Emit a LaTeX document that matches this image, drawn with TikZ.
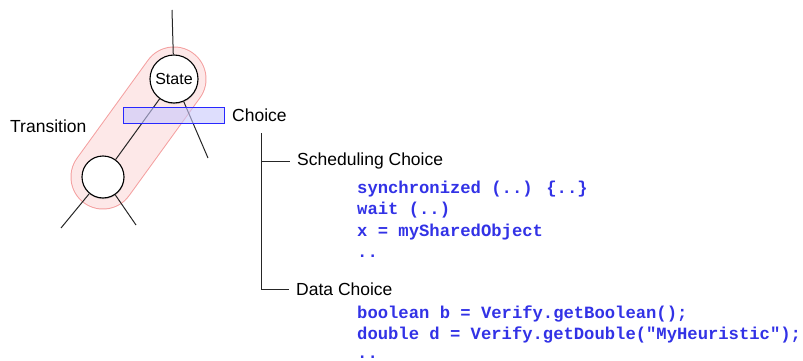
\documentclass[tikz,border=0pt]{standalone}
\usepackage{fontspec}
\setmainfont{Liberation Sans}
\newfontfamily\codefont{Liberation Mono}
\usetikzlibrary{shadows}
\definecolor{capline}{RGB}{244,160,160}
\definecolor{capfill}{RGB}{253,232,232}
\definecolor{codeblue}{RGB}{50,50,230}
\definecolor{rectline}{RGB}{40,40,255}
\definecolor{rectfill}{RGB}{200,200,252}
\tikzset{
  circ/.style={circle, draw=black, line width=1.1pt, fill=white, inner sep=0pt,
    drop shadow={shadow xshift=0.4pt, shadow yshift=-1.2pt, opacity=0.35}},
  lbl/.style={anchor=west, inner sep=0pt, font=\fontsize{17.5}{18}\selectfont},
  code/.style={anchor=base west, inner sep=0pt, text=codeblue, font=\codefont\bfseries\fontsize{17.2}{18}\selectfont},
  edge/.style={draw=black!85, line width=1pt},
}
\begin{document}
\begin{tikzpicture}[x=1pt, y=-1pt]
\useasboundingbox (0,0) rectangle (803,361);
% capsule
\coordinate (cs) at (174,79);
\coordinate (cl) at (103,177);
\draw[line width=65pt, line cap=round, draw=capline] (cs) -- (cl);
\draw[line width=63pt, line cap=round, draw=capfill] (cs) -- (cl);
% free ends
\coordinate (t0) at (172,10);
\coordinate (r1) at (208,158);
\coordinate (l1) at (61,228);
\coordinate (l2) at (136,225);
% circles
\node[circ, minimum size=48pt, font=\fontsize{16}{16}\selectfont] (st) at (cs) {State};
\node[circ, minimum size=42pt] (lo) at (cl) {};
\draw[edge] (t0) -- (st);
\draw[edge] (st) -- (r1);
\draw[edge] (st) -- (lo);
\draw[edge] (lo) -- (l1);
\draw[edge] (lo) -- (l2);
% choice rect
\node[draw=rectline, line width=1pt, fill=rectfill, fill opacity=0.6, draw opacity=1,
  minimum width=101pt, minimum height=16pt, inner sep=0pt] (ch) at (173.5,115) {};
\node[lbl] (chl) at (232,115) {Choice};
\node[lbl] (tr) at (10,126) {Transition};
% tree
\coordinate (v0) at (261,133);
\coordinate (v1) at (261,161);
\coordinate (v2) at (261,289);
\coordinate (h1) at (290,161);
\coordinate (h2) at (289,289);
\node[lbl] (sc) at (297,161) {Scheduling Choice};
\node[lbl] (dc) at (296,289) {Data Choice};
\draw[edge] (v0) -- (v2) -- (h2);
\draw[edge] (v1) -- (h1);
% code
\node[code] (c1) at (357,193) {synchronized (..) \{..\}};
\node[code] (c2) at (357,214.5) {wait (..)};
\node[code] (c3) at (357,236) {x = mySharedObject};
\node[code] (c4) at (357,257.5) {..};
\node[code] (d1) at (357,318) {boolean b = Verify.getBoolean();};
\node[code] (d2) at (357,339.5) {double d = Verify.getDouble("MyHeuristic");};
\node[code] (d3) at (357,358.5) {..};
\end{tikzpicture}
\end{document}
